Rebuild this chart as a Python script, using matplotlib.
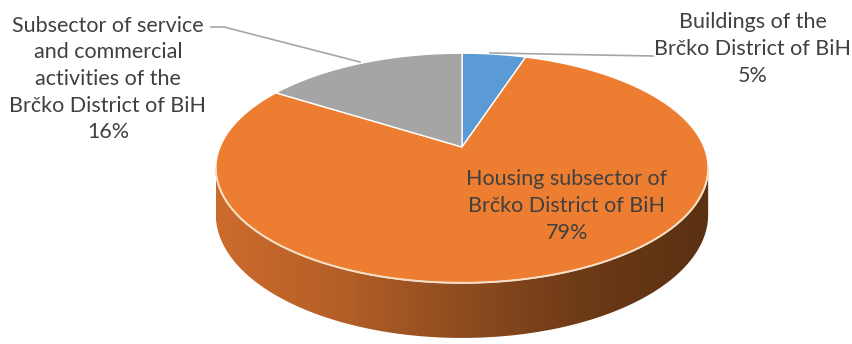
import numpy as np
import matplotlib
matplotlib.use("Agg")
import matplotlib.pyplot as plt
from matplotlib.patches import Polygon
from matplotlib.colors import LinearSegmentedColormap

# Shares of the building stock (clockwise from 12 o'clock)
labels = [
    "Buildings of the\nBrčko District of BiH",
    "Housing subsector of\nBrčko District of BiH",
    "Subsector of service\nand commercial\nactivities of the\nBrčko District of BiH",
]
shares = [5, 79, 16]
colors = ["#5B9BD5", "#ED7D31", "#A5A5A5"]

W, H = 853, 344
fig = plt.figure(figsize=(W / 100, H / 100), dpi=100)
ax = fig.add_axes([0, 0, 1, 1])
ax.set_xlim(0, W)
ax.set_ylim(H, 0)
ax.axis("off")

# tilted disc with a little perspective
cx, cy = 462, 147
A, B = 242, 111
P = 0.183
DEPTH = 45


def proj(theta_deg, drop=0.0):
    t = np.radians(theta_deg)
    u, v = np.sin(t), np.cos(t)
    k = 1 / (1 + P * v)
    return cx + A * u * k, cy - B * v * k + drop * k


# side wall (front half of the rim)
t_right = np.degrees(np.arccos(-P))
t_left = 360 - t_right
ts = np.linspace(t_right, t_left, 300)
tx, ty = proj(ts)
bx, by = proj(ts[::-1], DEPTH)
side_xy = np.column_stack([np.r_[tx, bx], np.r_[ty, by]])
side = Polygon(side_xy, closed=True, facecolor="none", edgecolor="none")
ax.add_patch(side)

side_cmap = LinearSegmentedColormap.from_list(
    "rim", ["#CC6B2C", "#B45F27", "#8E4C1F", "#6C3A17", "#5A3112"])
grad = np.linspace(0, 1, 512)[None, :]
x0, x1 = side_xy[:, 0].min(), side_xy[:, 0].max()
y0, y1 = side_xy[:, 1].min(), side_xy[:, 1].max()
img = ax.imshow(grad, cmap=side_cmap, extent=(x0, x1, y1, y0),
                aspect="auto", interpolation="bilinear", zorder=1)
img.set_clip_path(side)

# top face slices
total = sum(shares)
start = 0.0
for share, col in zip(shares, colors):
    span = 360.0 * share / total
    th = np.linspace(start, start + span, max(int(span * 2), 4))
    px, py = proj(th)
    poly = np.column_stack([np.r_[cx, px], np.r_[cy, py]])
    ax.add_patch(Polygon(poly, closed=True, facecolor=col,
                         edgecolor="white", linewidth=1.0, zorder=2))
    start += span

# light rim highlight along the front edge
ax.plot(tx, ty, color="#F6DFC4", linewidth=1.4, zorder=3,
        solid_capstyle="round")

# labels
font = dict(family=["Lato", "DejaVu Sans"], fontsize=15.5, color="#404040",
            ha="center", va="center", linespacing=1.42, zorder=5)
lead = dict(color="#A6A6A6", linewidth=1.2, zorder=4)

ax.text(753, 49, f"{labels[0]}\n{shares[0]}%", **font)
ax.plot([490, 653], [53, 56], **lead)

ax.text(567, 206, f"{labels[1]}\n{shares[1]}%", **font)

ax.text(108, 79, f"{labels[2]}\n{shares[2]}%", **font)
ax.plot([211, 224, 360], [27, 27, 62], **lead)

fig.savefig("out.png", dpi=100)
